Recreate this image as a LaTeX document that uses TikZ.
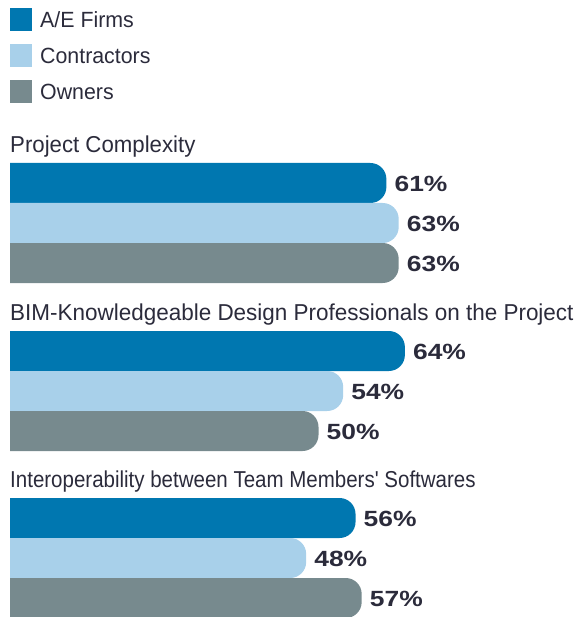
\documentclass[tikz,border=0pt]{standalone}
\usepackage{fontspec}
\setmainfont{Liberation Sans}[FakeStretch=0.92]
\newfontfamily\legfont{Liberation Sans}[FakeStretch=0.97]
\newfontfamily\pctfont{Liberation Sans}[FakeStretch=1.2]
\definecolor{aeblue}{HTML}{0077B0}
\definecolor{conblue}{HTML}{A8D0EA}
\definecolor{owngray}{HTML}{778A8E}
\definecolor{txt}{HTML}{2B2B3B}
\tikzset{
  legtext/.style={anchor=west, inner sep=0pt, text=txt, font=\legfont\fontsize{22}{22}\selectfont},
  titletext/.style={anchor=base west, inner sep=0pt, text=txt, font=\fontsize{23}{23}\selectfont},
  pcttext/.style={anchor=west, inner sep=0pt, text=txt, font=\pctfont\bfseries\fontsize{22}{22}\selectfont},
}
\newcommand\drawbarx[5]{% name, color, top, value, label
  \fill[#2] (10,#3+40) -- (10,#3) [rounded corners=16pt] -- ({10+6.17*#4},#3) -- ({10+6.17*#4},#3+40) [sharp corners] -- cycle;
  \node[pcttext] (#1) at ({10+6.17*#4+8},#3+21) {#5};
}
\begin{document}
\begin{tikzpicture}[x=1pt,y=-1pt]
\useasboundingbox (0,0) rectangle (576,617);
% legend
\fill[aeblue] (10,8) rectangle (32,31);
\fill[conblue] (10,44) rectangle (32,67);
\fill[owngray] (10,80) rectangle (32,103);
\node[legtext] (lae) at (40,20) {A/E Firms};
\node[legtext] (lcon) at (40,56) {Contractors};
\node[legtext] (lown) at (40,92) {Owners};
% group 1
\node[titletext] (t1) at (10,153) {\scalebox{1.05}[1]{Project Complexity}};
\drawbarx{p11}{aeblue}{163}{61}{61\%}
\drawbarx{p12}{conblue}{203}{63}{63\%}
\drawbarx{p13}{owngray}{243}{63}{63\%}
% group 2
\node[titletext] (t2) at (10,320) {\scalebox{1.062}[1]{BIM-Knowledgeable Design Professionals on the Project}};
\drawbarx{p21}{aeblue}{331}{64}{64\%}
\drawbarx{p22}{conblue}{371}{54}{54\%}
\drawbarx{p23}{owngray}{411}{50}{50\%}
% group 3
\node[titletext] (t3) at (10,487) {\scalebox{0.969}[1]{Interoperability between Team Members{\addfontfeatures{Ligatures=TeXOff}'} Softwares}};
\drawbarx{p31}{aeblue}{498}{56}{56\%}
\drawbarx{p32}{conblue}{538}{48}{48\%}
\drawbarx{p33}{owngray}{578}{57}{57\%}
\end{tikzpicture}
\end{document}
